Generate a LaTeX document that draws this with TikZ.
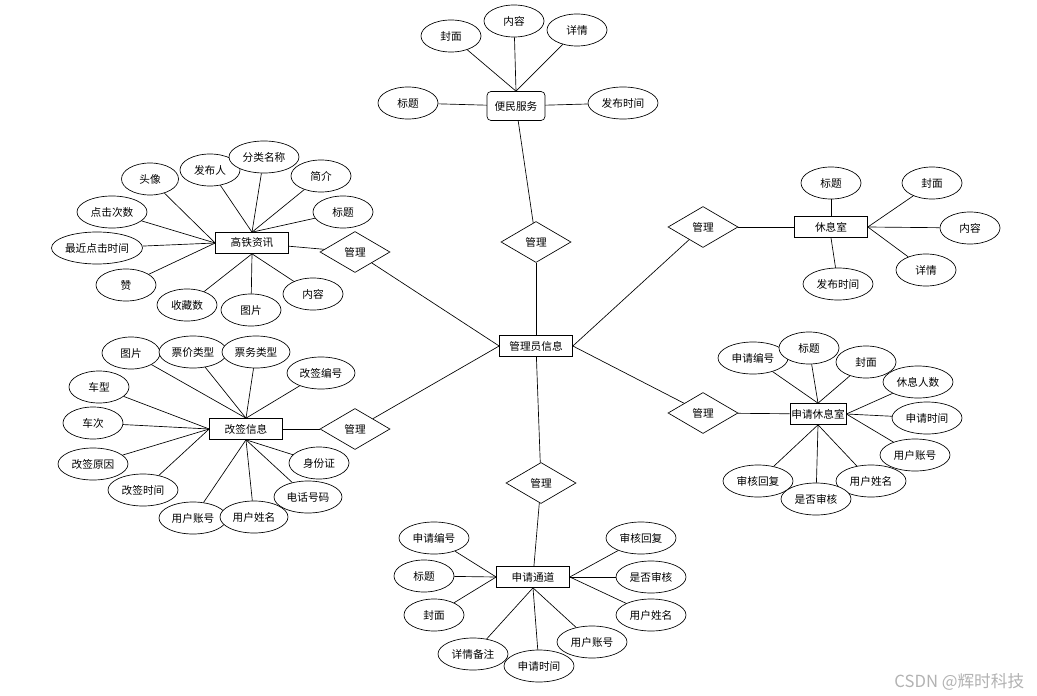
\documentclass[tikz,border=0pt]{standalone}
\usepackage{fontspec}
\setmainfont{Noto Sans CJK SC}
\usetikzlibrary{shapes.geometric}

\begin{document}
\begin{tikzpicture}[x=0.75pt,y=-0.75pt,font=\fontsize{8}{10}\selectfont,line width=0.5pt,
  attr/.style={ellipse,draw,fill=white,inner sep=0pt,minimum width=45pt,minimum height=24pt},
  wide/.style={minimum width=52.5pt},
  ent/.style={rectangle,draw,fill=white,inner sep=1pt,minimum width=54.75pt,minimum height=15.75pt},
  rel/.style={diamond,draw,fill=white,inner sep=0pt,minimum width=52.5pt,minimum height=30.75pt}]
\useasboundingbox (0,0) rectangle (1037,695);

% entities and relations
\node[ent,rounded corners=3pt,minimum width=43.5pt,minimum height=21.75pt] (bm) at (516,106) {便民服务};
\node[ent] (gt) at (252,243) {高铁资讯};
\node[ent] (gq) at (246,429) {改签信息};
\node[ent] (admin) at (536,346) {管理员信息};
\node[ent] (xx) at (831,227) {休息室};
\node[ent,minimum width=41.25pt] (sx) at (818,414) {申请休息室};
\node[ent] (td) at (533,577) {申请通道};

\node[rel] (r1) at (536,242) {管理};
\node[rel] (r2) at (355,252) {管理};
\node[rel] (r3) at (355,429) {管理};
\node[rel] (r4) at (703,227) {管理};
\node[rel] (r5) at (703,413) {管理};
\node[rel] (r6) at (541,483) {管理};

% 便民服务
\node[attr] (bm1) at (451,36) {封面};
\node[attr] (bm2) at (514,21) {内容};
\node[attr] (bm3) at (577,30) {详情};
\node[attr] (bm4) at (408,103) {标题};
\node[attr,wide] (bm5) at (623,103) {发布时间};

% 高铁资讯
\node[attr,minimum width=42.75pt] (gt1) at (150,179) {头像};
\node[attr] (gt2) at (210,170) {发布人};
\node[attr,wide] (gt3) at (264,157) {分类名称};
\node[attr] (gt4) at (321,176) {简介};
\node[attr] (gt5) at (343,212) {标题};
\node[attr,wide] (gt6) at (112,212) {点击次数};
\node[attr,minimum width=68.25pt] (gt7) at (97,248) {最近点击时间};
\node[attr] (gt8) at (126,285) {赞};
\node[attr] (gt9) at (187,305) {收藏数};
\node[attr] (gt10) at (251,310) {图片};
\node[attr] (gt11) at (313,294) {内容};

% 改签信息
\node[attr,minimum width=43.5pt] (gq1) at (131,353) {图片};
\node[attr,minimum width=51pt] (gq2) at (193,352) {票价类型};
\node[attr,minimum width=51pt] (gq3) at (256,352) {票务类型};
\node[attr,minimum width=51pt] (gq4) at (321,373) {改签编号};
\node[attr] (gq5) at (99,387) {车型};
\node[attr] (gq6) at (93,423) {车次};
\node[attr,wide] (gq7) at (93,464) {改签原因};
\node[attr,wide] (gq8) at (143,490) {改签时间};
\node[attr,minimum width=51pt] (gq12) at (308,497) {电话号码};
\node[attr] (gq13) at (319,463) {身份证};
\node[attr,minimum width=51pt] (gq9) at (193,518) {用户账号};
\node[attr,minimum width=51pt] (gq10) at (254,517) {用户姓名};

% 休息室
\node[attr] (xx1) at (831,183) {标题};
\node[attr] (xx2) at (932,183) {封面};
\node[attr] (xx3) at (970,228) {内容};
\node[attr] (xx4) at (926,270) {详情};
\node[attr,wide] (xx5) at (838,284) {发布时间};

% 申请休息室
\node[attr,wide] (sx1) at (753,358) {申请编号};
\node[attr] (sx2) at (809,348) {标题};
\node[attr] (sx3) at (866,362) {封面};
\node[attr,wide] (sx4) at (918,382) {休息人数};
\node[attr,wide] (sx5) at (927,418) {申请时间};
\node[attr,wide] (sx6) at (915,455) {用户账号};
\node[attr,wide] (sx9) at (758,481) {审核回复};
\node[attr,wide] (sx7) at (871,481) {用户姓名};
\node[attr,wide] (sx8) at (816,499) {是否审核};

% 申请通道
\node[attr,wide] (td1) at (434,538) {申请编号};
\node[attr] (td2) at (424,576) {标题};
\node[attr] (td3) at (434,615) {封面};
\node[attr,wide] (td4) at (473,654) {详情备注};
\node[attr,wide] (td5) at (539,666) {申请时间};
\node[attr,wide] (td6) at (592,642) {用户账号};
\node[attr,wide] (td7) at (651,615) {用户姓名};
\node[attr,wide] (td8) at (651,577) {是否审核};
\node[attr,wide] (td9) at (641,538) {审核回复};

\node[anchor=east,text=black!30,font=\fontsize{12.5}{15}\selectfont] (wm) at (1029,682) {CSDN @辉时科技};

% connectors
\draw (bm.north) -- (bm1);
\draw (bm.north) -- (bm2);
\draw (bm.north) -- (bm3);
\draw (bm) -- (bm4);
\draw (bm) -- (bm5);
\draw (bm) -- (r1);
\draw (r1) -- (admin);

\draw (gt.west) -- (gt1);
\draw (gt.north) -- (gt2);
\draw (gt.north) -- (gt3);
\draw (gt.north) -- (gt4);
\draw (gt.north) -- (gt5);
\draw (gt.west) -- (gt6);
\draw (gt.west) -- (gt7);
\draw (gt.west) -- (gt8);
\draw (gt.south) -- (gt9);
\draw (gt.south) -- (gt10);
\draw (gt.south) -- (gt11);
\draw (gt) -- (r2);
\draw (r2) -- (admin.west);

\draw (gq.north) -- (gq1);
\draw (gq.north) -- (gq2);
\draw (gq.north) -- (gq3);
\draw (gq.north) -- (gq4);
\draw (gq.west) -- (gq5);
\draw (gq.west) -- (gq6);
\draw (gq.west) -- (gq7);
\draw (gq.west) -- (gq8);
\draw (gq.south) -- (gq9);
\draw (gq.south) -- (gq10);
\draw (gq.south) -- (gq12);
\draw (gq.south) -- (gq13);
\draw (gq) -- (r3);
\draw (r3) -- (admin.west);

\draw (xx.north) -- (xx1);
\draw (xx.east) -- (xx2);
\draw (xx.east) -- (xx3);
\draw (xx.east) -- (xx4);
\draw (xx.south) -- (xx5);
\draw (r4) -- (xx);
\draw (admin.east) -- (r4);

\draw (sx.north) -- (sx1);
\draw (sx.north) -- (sx2);
\draw (sx.north) -- (sx3);
\draw (sx.east) -- (sx4);
\draw (sx.east) -- (sx5);
\draw (sx.east) -- (sx6);
\draw (sx.south) -- (sx7);
\draw (sx.south) -- (sx8);
\draw (sx.south) -- (sx9);
\draw (r5) -- (sx);
\draw (admin.east) -- (r5);

\draw (td.west) -- (td1);
\draw (td.west) -- (td2);
\draw (td.west) -- (td3);
\draw (td.south) -- (td4);
\draw (td.south) -- (td5);
\draw (td.south) -- (td6);
\draw (td.east) -- (td7);
\draw (td.east) -- (td8);
\draw (td.east) -- (td9);
\draw (admin) -- (r6);
\draw (r6) -- (td);

\end{tikzpicture}
\end{document}
